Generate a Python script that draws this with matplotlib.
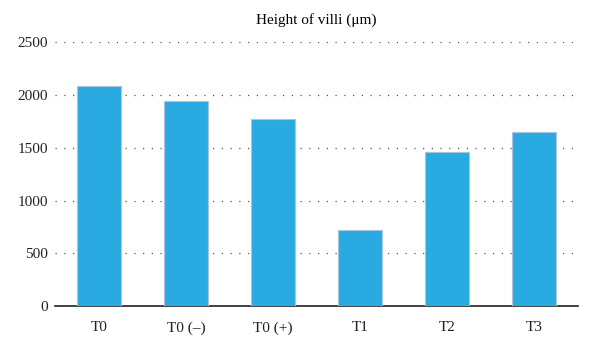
import matplotlib.pyplot as plt

# Height of villi per treatment
groups = ['T0', 'T0 (\u2013)', 'T0 (+)', 'T1', 'T2', 'T3']
heights = [2083, 1946, 1771, 724, 1463, 1652]
yticks = [0, 500, 1000, 1500, 2000, 2500]

plt.rcParams['font.family'] = ['Liberation Serif', 'DejaVu Serif']

fig, ax = plt.subplots(figsize=(6, 3.54), dpi=100)
fig.subplots_adjust(left=0.092, right=0.963, top=0.881, bottom=0.135)

ax.bar(range(len(groups)), heights, width=0.5, color='#29abe2',
       edgecolor='#a9c4dc', linewidth=0.8, zorder=3)

ax.set_xlim(-0.5, len(groups) - 0.5)
ax.set_ylim(0, 2500)
ax.set_yticks(yticks)
ax.set_xticks(range(len(groups)))
ax.set_xticklabels(groups)
ax.tick_params(axis='both', length=0, labelsize=11, colors='#222222')
ax.tick_params(axis='x', pad=11)
ax.tick_params(axis='y', pad=5)

ax.yaxis.grid(True, linestyle=(0, (1, 6)), color='#555555', linewidth=0.9, zorder=0)
for s in ['top', 'right', 'left']:
    ax.spines[s].set_visible(False)
ax.spines['bottom'].set_color('#222222')
ax.spines['bottom'].set_linewidth(1.2)

ax.set_title('Height of villi (\u03bcm)', fontsize=11, pad=13)

fig.savefig('out.png', dpi=100)
